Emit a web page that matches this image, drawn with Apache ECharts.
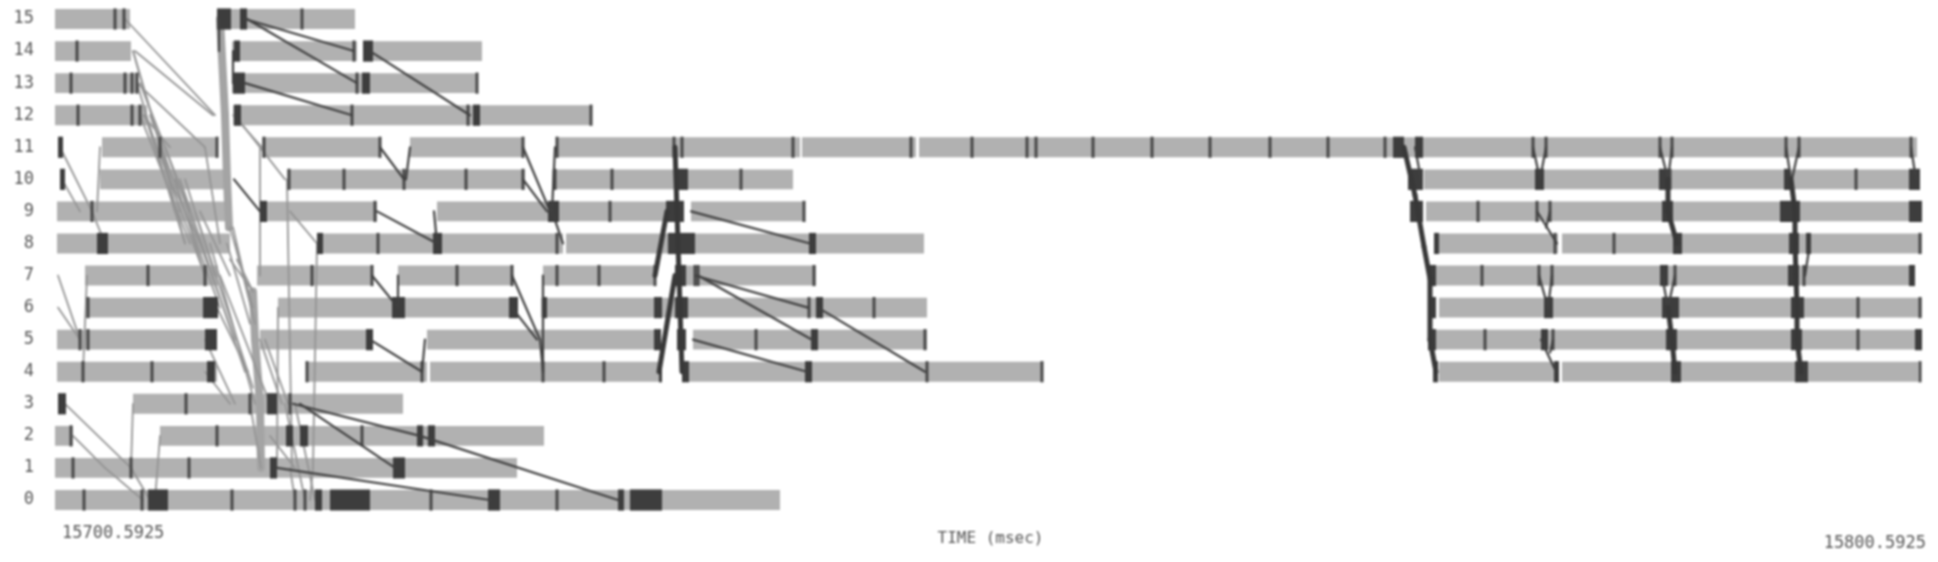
<!DOCTYPE html>
<html><head><meta charset="utf-8">
<style>html,body{margin:0;padding:0;background:#fff}#c{width:1938px;height:562px;filter:blur(0.9px)}</style>
<script src="https://cdn.jsdelivr.net/npm/echarts@6/dist/echarts.min.js"></script>
</head><body><div id="c"></div>
<script>
// Time is in clock ticks from the start of the trace; 1871 ticks span the 100 msec window.
const windowTicks = 1871;
const startLabel = '15700.5925', endLabel = '15800.5925', timeTitle = 'TIME (msec)';
const rowLabels = ['0','1','2','3','4','5','6','7','8','9','10','11','12','13','14','15'];

// busy periods per processor row: [start,end]
const busy0 = [[0,725]];
const busy1 = [[0,462]];
const busy2 = [[0,18],[105,489]];
const busy3 = [[78,348]];
const busy4 = [[2,162],[252,372],[375,607],[627,988],[1384,1504],[1507,1863]];
const busy5 = [[2,162],[205,318],[372,606],[622,631],[638,872],[1381,1867]];
const busy6 = [[30,163],[223,463],[486,872],[1384,1867]];
const busy7 = [[30,163],[202,317],[343,457],[488,600],[620,761],[1381,1860]];
const busy8 = [[2,175],[262,508],[511,869],[1384,1503],[1507,1867]];
const busy9 = [[2,176],[205,322],[382,629],[636,750],[1371,1867]];
const busy10 = [[45,175],[232,470],[497,738],[1369,1865]];
const busy11 = [[47,163],[207,325],[355,468],[502,745],[747,861],[864,1862]];
const busy12 = [[0,92],[178,536]];
const busy13 = [[0,83],[177,423]];
const busy14 = [[0,76],[177,302],[308,427]];
const busy15 = [[0,75],[162,300]];
const busyRows = [busy0,busy1,busy2,busy3,busy4,busy5,busy6,busy7,busy8,busy9,busy10,busy11,busy12,busy13,busy14,busy15];

// dense event blocks per row: [start,end]
const block0 = [[93,113],[260,267],[275,315],[433,445],[563,569],[575,607]];
const block1 = [[215,222],[338,350]];
const block2 = [[231,238],[245,253],[362,368],[373,380]];
const block3 = [[3,11],[212,222]];
const block4 = [[152,160],[604,607],[627,634],[750,757],[1378,1383],[1499,1504],[1616,1626],[1740,1753]];
const block5 = [[150,162],[311,318],[599,606],[622,631],[756,763],[1373,1381],[1486,1493],[1611,1622],[1736,1747],[1860,1867]];
const block6 = [[148,163],[337,350],[454,463],[488,492],[599,607],[620,633],[761,768],[1375,1381],[1489,1498],[1607,1624],[1736,1749]];
const block7 = [[620,631],[1373,1381],[1605,1613],[1733,1744],[1854,1860]];
const block8 = [[42,53],[262,268],[378,387],[613,640],[754,761],[1379,1384],[1618,1627],[1734,1744],[1751,1756]];
const block9 = [[205,212],[493,504],[611,629],[1355,1368],[1607,1618],[1725,1745],[1854,1867]];
const block10 = [[5,10],[620,633],[1353,1368],[1480,1489],[1604,1615],[1729,1735],[1854,1865]];
const block11 = [[3,8],[1338,1349],[1360,1368]];
const block12 = [[179,186],[418,425]];
const block13 = [[178,190],[307,315]];
const block14 = [[179,185],[308,318]];
const block15 = [[162,176],[185,192]];
const blockRows = [block0,block1,block2,block3,block4,block5,block6,block7,block8,block9,block10,block11,block12,block13,block14,block15];

// single events per row
const tick0 = [29,87,177,240,250,376,502];
const tick1 = [18,76,134];
const tick2 = [16,162,307];
const tick3 = [131,195,235];
const tick4 = [28,97,252,367,488,549,872,987,1865];
const tick5 = [25,33,701,870,1430,1498,1803];
const tick6 = [33,754,819,1803,1865];
const tick7 = [93,150,257,317,402,457,502,544,600,640,643,759,1427,1484,1497,1620,1749];
const tick8 = [323,502,1500,1559,1865];
const tick9 = [37,320,555,749,1423,1482,1495];
const tick10 = [234,289,349,411,468,500,557,686,1615,1801];
const tick11 = [105,162,209,325,468,502,619,627,738,856,917,972,981,1038,1097,1155,1215,1273,1330,1478,1491,1605,1617,1731,1744,1856];
const tick12 = [23,77,85,297,413,536];
const tick13 = [16,70,77,82,302,422];
const tick14 = [22,299];
const tick15 = [60,69,247];
const tickRows = [tick0,tick1,tick2,tick3,tick4,tick5,tick6,tick7,tick8,tick9,tick10,tick11,tick12,tick13,tick14,tick15];

// messages: [sendTime,sendRow,recvTime,recvRow]
const darkLinks = [
 [190,15,299,14],[192,15,302,13],[190,13,297,12],[315,14,415,12],
 [325,11,349,10],[355,11,351,10],[322,9,382,8],[382,8,379,9],
 [317,7,343,6],[343,6,343,7],[315,5,367,4],[367,4,370,5],
 [468,11,495,9],[468,10,492,9],[497,9,508,8],[497,9,500,11],
 [457,7,485,5],[457,6,482,5],[485,5,488,4],[488,4,488,7],
 [636,9,755,8],[640,7,753,6],[643,7,757,5],[763,6,870,4],[638,5,752,4],
 [238,3,365,2],[365,2,563,0],[245,3,340,1],[222,1,435,0],
 [164,15,164,14],[178,14,178,13],[179,10,205,9],
 [1360,11,1366,10],[1478,11,1485,10],[1491,11,1485,10],[1482,9,1502,8],[1495,9,1491,8.5],
 [1484,7,1493,6],[1497,7,1493,6],[1486,5,1501,4],[1498,5,1495,4.6],
 [1605,11,1613,10],[1617,11,1613,10],[1607,7,1613,6],[1620,7,1613,6],
 [1731,11,1736,10],[1744,11,1737,10],[1755,8,1750,7],[1856,11,1861,10]
];
const heavyLinks = [
 [600,7,612,9],[604,4,620,7],[627,4,620,11],
 [1349,11,1360,9.5],[1360,9.5,1369,7.9],[1369,7.9,1375,6.9],[1375,6.9,1375,5],[1375,5,1381,4],
 [1613,10,1613,9],[1613,9,1622,8],[1613,6,1617,5],[1617,5,1620,4],
 [1736,10,1740,9],[1740,9,1740,8],[1740,8,1741,7],[1741,7,1742,6],[1742,6,1742,5],[1742,5,1746,4]
];
const lightLinks = [
 [70,15,160,12],[80,14,158,12],[78,14,115,10],[82,13,150,11],[82,13,120,9],[85,12,135,8],[88,12,115,11],
 [90,12,130,8],[105,11,130,8],[115,10,145,8],[120,10,150,7],[130,10,160,7],[150,11,165,8],[145,9,175,7],
 [78,14,125,9],[85,13,135,9],[90,12,150,7],[95,12,165,6],[110,11,180,5],[125,10,190,4],[140,9,198,3.5],[155,8,200,3],[165,7,215,3],
 [5,11,37,9],[7,10,25,9],[37,9,50,8],[45,11,42,9],[3,7,25,5],[3,6,25,5],[28,4,32,7],
 [10,3,76,1],[76,1,95,0],[18,2,50,1],[50,1,88,0],[78,3,76,1],[100,0,105,2],
 [175,8.5,198,6],[178,8.5,200,5.5],[180,8,196,6],[172,8,195,5.5],[150,5,180,3],[162,6,193,4],
 [175,7.5,198,6.5],[182,7.5,198,6.5],[205,5,227,3],[210,5,233,3],[150,4,175,3],
 [223,6,222,1],[232,10,237,1],[262,8,258,1],[205,11,205,7],[180,12,230,10],[178,12,207,11],[235,9,262,8],
 [195,3,206,1],[215,2,240,1],[230,3,250,0],[240,3,260,0],[258,1,255,0],[235,1,240,0]
];
const bandLinks = [
 [165,15,170,12],[170,12,172,10],[172,10,174,8.5],[198,6.5,200,5],[200,5,205,3],[205,3,206,1]
];

function spans(rows){const out=[];rows.forEach((r,i)=>r.forEach(s=>out.push([s[0],s[1],i])));return out;}
function points(rows){const out=[];rows.forEach((r,i)=>r.forEach(t=>out.push([t,i])));return out;}

function spanSeries(rows,color,h,z){return {type:'custom',z,silent:true,clip:false,
  encode:{x:[0,1],y:2},data:spans(rows),
  renderItem(p,api){
    const a=api.coord([api.value(0),api.value(2)]),b=api.coord([api.value(1),api.value(2)]);
    const H=api.size([0,1])[1]*h;
    return {type:'rect',shape:{x:a[0],y:a[1]-H/2,width:b[0]-a[0],height:H},style:{fill:color}};
  }};}
function tickSeries(rows,color,h,w,z){return {type:'custom',z,silent:true,clip:false,
  encode:{x:0,y:1},data:points(rows),
  renderItem(p,api){
    const a=api.coord([api.value(0),api.value(1)]);
    const H=api.size([0,1])[1]*h;
    return {type:'line',shape:{x1:a[0],y1:a[1]-H/2,x2:a[0],y2:a[1]+H/2},style:{stroke:color,lineWidth:w}};
  }};}
function linkSeries(data,color,w,z){return {type:'custom',z,silent:true,clip:false,
  encode:{x:[0,2],y:[1,3]},data,
  renderItem(p,api){
    const a=api.coord([api.value(0),api.value(1)]),b=api.coord([api.value(2),api.value(3)]);
    return {type:'line',shape:{x1:a[0],y1:a[1],x2:b[0],y2:b[1]},style:{stroke:color,lineWidth:w,lineCap:'round'}};
  }};}

const chart=echarts.init(document.getElementById('c'),null,{renderer:'canvas'});
chart.setOption({
  animation:false,backgroundColor:'#fff',
  grid:{left:55,width:windowTicks,top:19,height:481,outerBoundsMode:'none'},
  xAxis:{type:'value',min:0,max:windowTicks,interval:windowTicks,
    axisLine:{show:false},axisTick:{show:false},splitLine:{show:false},
    name:timeTitle,nameLocation:'middle',nameGap:31,nameMoveOverlap:false,
    nameTextStyle:{fontFamily:'DejaVu Sans Mono',fontSize:16,color:'#555'},
    axisLabel:{margin:25,alignMinLabel:'left',alignMaxLabel:'right',showMinLabel:true,showMaxLabel:true,
      fontFamily:'DejaVu Sans Mono',fontSize:17,color:'#555',
      formatter:v=>v===0?'{a|'+startLabel+'}':'{b|'+endLabel+'}',
      rich:{a:{fontFamily:'DejaVu Sans Mono',fontSize:17,color:'#555',padding:[0,0,0,7]},
            b:{fontFamily:'DejaVu Sans Mono',fontSize:17,color:'#555',padding:[10,0,0,0]}}}},
  yAxis:{type:'value',min:0,max:15,interval:1,
    axisLine:{show:false},axisTick:{show:false},splitLine:{show:false},
    axisLabel:{margin:21,fontFamily:'DejaVu Sans Mono',fontSize:17,color:'#555',formatter:v=>rowLabels[v]}},
  series:[
    spanSeries(busyRows,'#b1b1b1',0.62,1),
    linkSeries(bandLinks,'#a4a4a4',8,2),
    linkSeries(lightLinks,'#949494',1.8,3),
    tickSeries(tickRows,'#474747',0.66,3,4),
    spanSeries(blockRows,'#3d3d3d',0.66,5),
    linkSeries(darkLinks,'#404040',2.2,6),
    linkSeries(heavyLinks,'#383838',5,6)
  ]
});
</script></body></html>
